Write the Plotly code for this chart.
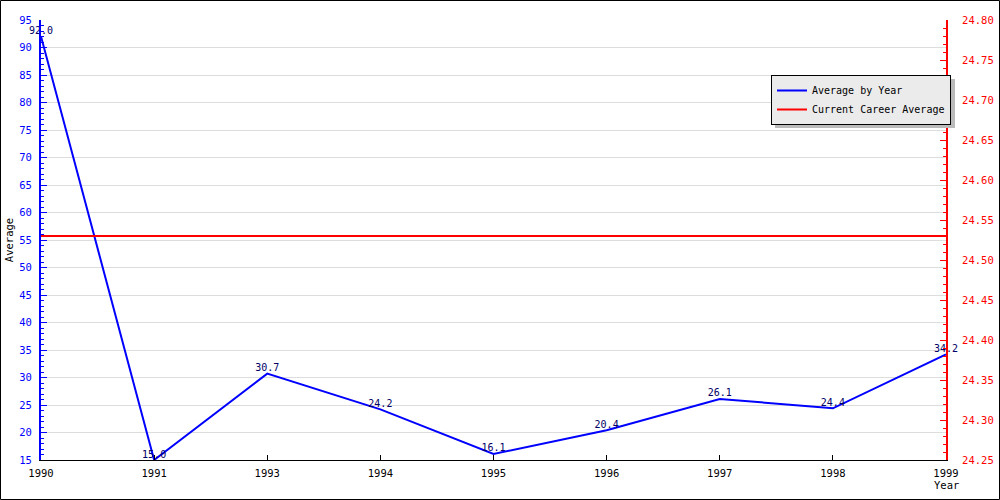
import plotly.graph_objects as go

years = ["1990", "1991", "1993", "1994", "1995", "1996", "1997", "1998", "1999"]
averages = [92.0, 15.0, 30.7, 24.2, 16.1, 20.4, 26.1, 24.4, 34.2]
career_average = 24.53
avg_labels = [f"{v:.1f}" for v in averages]

W, H = 1000, 500
ML, MR, MT, MB = 41, 54, 20, 40
PW, PH = W - ML - MR, H - MT - MB
FONT = "DejaVu Sans Mono"
FS = 10.5

fig = go.Figure()
fig.add_trace(go.Scatter(
    x=years, y=averages, mode="lines+text", name="Average by Year",
    line=dict(color="#0000ff", width=2),
    text=avg_labels, textposition="top center",
    textfont=dict(family=FONT, size=10, color="#000066"),
    cliponaxis=False,
))
fig.add_trace(go.Scatter(
    x=years, y=[career_average] * len(years), mode="lines",
    name="Current Career Average", yaxis="y2",
    line=dict(color="#ff0000", width=2),
))

# legend placement (pixels) and its drop shadow
LG_L, LG_T, LG_W, LG_H = 771, 75, 180, 49
lx0 = (LG_L - ML) / PW
ly1 = 1 - (LG_T - MT) / PH
shapes = [
    dict(type="rect", xref="paper", yref="paper",
         x0=(LG_L + 4 - ML) / PW, x1=(LG_L + LG_W + 4 - ML) / PW,
         y0=1 - (LG_T + LG_H + 4 - MT) / PH, y1=1 - (LG_T + 4 - MT) / PH,
         fillcolor="#bbbbbb", line=dict(width=0), layer="above"),
    dict(type="rect", xref="paper", yref="paper",
         x0=-(ML - 0.5) / PW, x1=1 + (MR - 0.5) / PW,
         y0=-(MB - 0.5) / PH, y1=1 + (MT - 0.5) / PH,
         line=dict(color="black", width=1), fillcolor="rgba(0,0,0,0)"),
]

fig.update_layout(
    width=W, height=H,
    margin=dict(l=ML, r=MR, t=MT, b=MB, pad=0, autoexpand=False),
    paper_bgcolor="white", plot_bgcolor="white",
    font=dict(family=FONT, size=FS, color="black"),
    showlegend=True,
    legend=dict(
        x=lx0, y=ly1, xanchor="left", yanchor="top",
        bgcolor="#ebebeb", bordercolor="black", borderwidth=1,
        font=dict(family=FONT, size=10, color="black"),
        itemwidth=30, tracegroupgap=0,
    ),
    xaxis=dict(
        type="category", range=[0, len(years) - 1], automargin=False,
        showline=True, linecolor="black", linewidth=1,
        ticks="inside", ticklen=5, tickcolor="black",
        showgrid=False, zeroline=False, ticklabelstandoff=3,
        tickfont=dict(family=FONT, size=FS, color="black"),
    ),
    yaxis=dict(
        range=[15, 95], dtick=5, tick0=15, automargin=False,
        showline=True, linecolor="#0000ff", linewidth=2,
        ticks="inside", ticklen=6, tickcolor="#0000ff",
        minor=dict(dtick=1, ticks="inside", ticklen=3, tickcolor="#0000ff", showgrid=False),
        showgrid=True, gridcolor="#dddddd", gridwidth=1, zeroline=False,
        ticklabelstandoff=5,
        tickfont=dict(family=FONT, size=FS, color="#0000ff"),
        title=dict(text="Average", font=dict(family=FONT, size=FS, color="black"), standoff=4),
    ),
    yaxis2=dict(
        range=[24.25, 24.80], dtick=0.05, tick0=24.25, tickformat=".2f",
        overlaying="y", side="right", automargin=False,
        showline=True, linecolor="#ff0000", linewidth=2,
        ticks="inside", ticklen=6, tickcolor="#ff0000",
        minor=dict(dtick=0.01, ticks="inside", ticklen=3, tickcolor="#ff0000", showgrid=False),
        showgrid=False, zeroline=False, ticklabelstandoff=12,
        tickfont=dict(family=FONT, size=FS, color="#ff0000"),
    ),
    shapes=shapes,
    annotations=[dict(
        text="Year", xref="paper", yref="paper", x=1, y=-25 / PH,
        xanchor="center", yanchor="middle", showarrow=False,
        font=dict(family=FONT, size=FS, color="black"),
    )],
)

fig.write_html("out.html")
